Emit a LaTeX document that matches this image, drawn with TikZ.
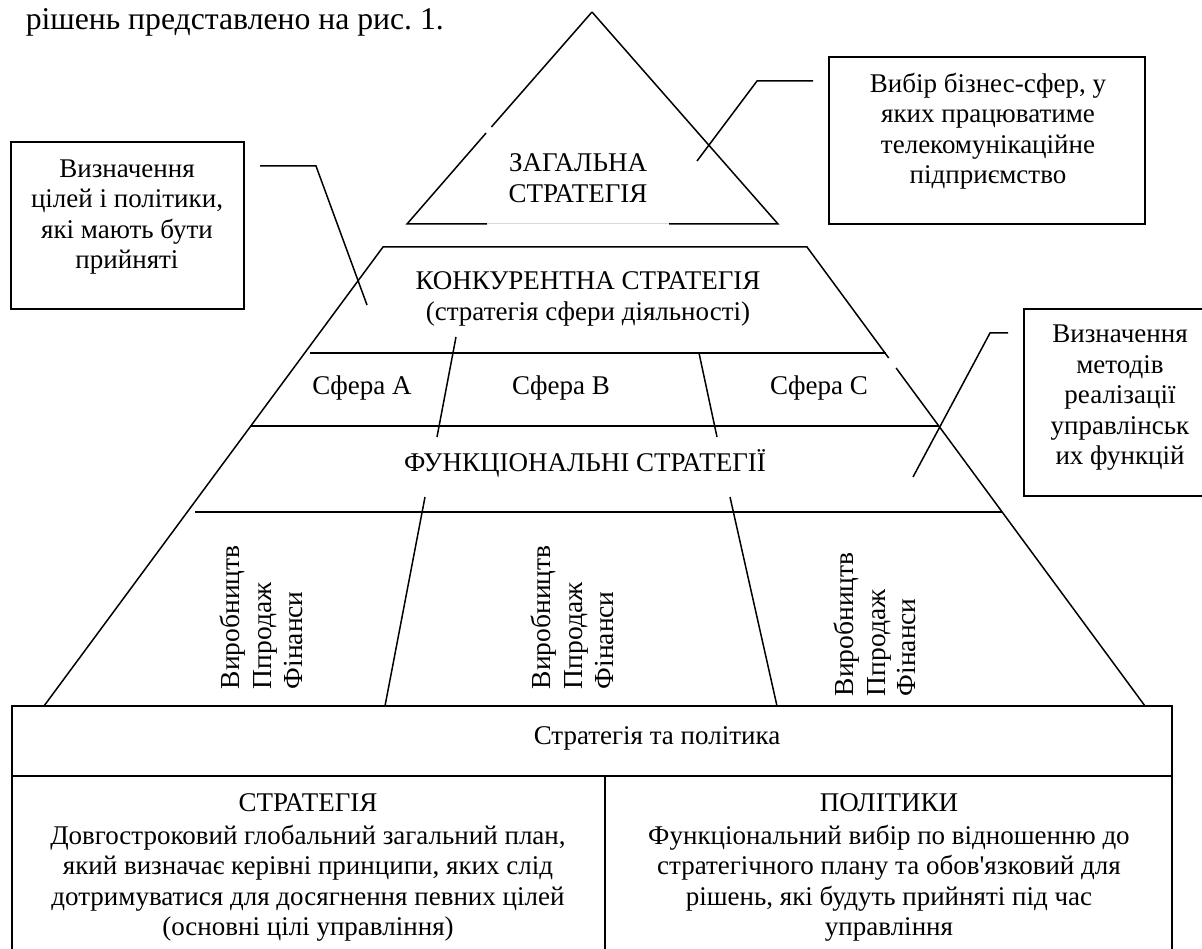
\documentclass[tikz,border=0pt]{standalone}
\usepackage{fontspec}
\setmainfont{Liberation Serif}
\newfontfamily\rawf{Liberation Serif}
\begin{document}
\frenchspacing
\begin{tikzpicture}[x=1pt,y=-1pt,line width=1.5pt,
  txt/.style={font=\fontsize{27}{30.5}\selectfont,inner sep=0pt,align=center},
  vtxt/.style={font=\fontsize{27.5}{30}\selectfont,inner sep=0pt,rotate=90,anchor=base west},
  bx/.style={line width=1.8pt},
  faint/.style={line width=1pt,black!15}]
\useasboundingbox (0,0) rectangle (1202,949);
% intro line
\node[anchor=base west,font=\fontsize{31.7}{34}\selectfont,inner sep=0pt] (intro) at (25,30) {рішень представлено на рис. 1.};
% top triangle
\coordinate (tA) at (592,12);
\coordinate (tL) at (407,224);
\coordinate (tR) at (778,224);
\coordinate (tg1) at (491.4,127);
\coordinate (tg2) at (486.1,133);
\coordinate (tb1) at (487,224);
\coordinate (tb2) at (669,224);
\draw (tA) -- (tg1);
\draw (tg2) -- (tL) -- (tb1);
\draw[faint] (tb1) -- (tb2);
\draw (tb2) -- (tR) -- (tA);
\node[txt] (zag) at (578,178) {ЗАГАЛЬНА\\СТРАТЕГІЯ};
% pyramid
\coordinate (pTL) at (383,247);
\coordinate (pTR) at (807,247);
\coordinate (pBL) at (44,706);
\coordinate (pBR) at (1145,706);
\coordinate (pg1) at (888.7,358);
\coordinate (pg2) at (896.1,368);
\draw (pBL) -- (pTL) -- (pTR) -- (pg1);
\draw (pg2) -- (pBR);
\coordinate (h1a) at (310,353); \coordinate (h1b) at (886,353);
\coordinate (h2a) at (251,426); \coordinate (h2b) at (939,426);
\coordinate (h3a) at (195,512); \coordinate (h3b) at (1002,512);
\draw (h1a) -- (h1b);
\draw (h2a) -- (h2b);
\draw (h3a) -- (h3b);
\coordinate (s1a) at (456,337); \coordinate (s1b) at (437,437);
\coordinate (s2a) at (699,353); \coordinate (s2b) at (717,437);
\coordinate (s3a) at (425,497); \coordinate (s3b) at (385,706);
\coordinate (s4a) at (730,497); \coordinate (s4b) at (777,706);
\draw (s1a) -- (s1b);
\draw (s2a) -- (s2b);
\draw (s3a) -- (s3b);
\draw (s4a) -- (s4b);
\node[txt] (konk) at (588,299) {КОНКУРЕНТНА СТРАТЕГІЯ\\(стратегія сфери діяльності)};
\node[txt] (sfA) at (362,388) {Сфера А};
\node[txt] (sfB) at (561,388) {Сфера В};
\node[txt] (sfC) at (819,388) {Сфера С};
\node[txt] (func) at (585,463) {ФУНКЦІОНАЛЬНІ СТРАТЕГІЇ};
% vertical texts
\node[vtxt] (v1a) at (239,690) {Виробництв};
\node[vtxt] (v1b) at (271,690) {Ппродаж};
\node[vtxt] (v1c) at (302,690) {Фінанси};
\node[vtxt] (v2a) at (550,690) {Виробництв};
\node[vtxt] (v2b) at (582,690) {Ппродаж};
\node[vtxt] (v2c) at (613,690) {Фінанси};
\node[vtxt] (v3a) at (853,697) {Виробництв};
\node[vtxt] (v3b) at (885,697) {Ппродаж};
\node[vtxt] (v3c) at (915,697) {Фінанси};
% callout boxes
\node[bx,draw,minimum width=233pt,minimum height=167pt,inner sep=0pt] (cL) at (127.5,225.5) {};
\node[txt] (cLt) at (127,217) {Визначення\\цілей і політики,\\які мають бути\\прийняті};
\node[bx,draw,minimum width=316pt,minimum height=167pt,inner sep=0pt] (cT) at (987,140.5) {};
\node[txt] (cTt) at (988,131) {Вибір бізнес-сфер, у\\яких працюватиме\\телекомунікаційне\\підприємство};
\draw[bx] (1205,309) -- (1024,309) -- (1024,496) -- (1205,496);
\node[txt] (cRt) at (1120,398) {Визначення\\методів\\реалізації\\управлінськ\\их функцій};
% callout lines
\coordinate (lL1) at (260,166); \coordinate (lL2) at (316,166); \coordinate (lL3) at (367,305);
\draw (lL1) -- (lL2) -- (lL3);
\coordinate (lT1) at (813,81); \coordinate (lT2) at (757,81); \coordinate (lT3) at (697,161);
\draw (lT1) -- (lT2) -- (lT3);
\coordinate (lR1) at (1008,333); \coordinate (lR2) at (990,333); \coordinate (lR3) at (913,477);
\draw (lR1) -- (lR2) -- (lR3);
% bottom table
\draw[bx] (12,955) -- (12,706) -- (1172,706) -- (1172,955);
\draw[bx] (12,776) -- (1172,776);
\draw[bx] (605,776) -- (605,955);
\node[txt] (sp) at (657,738) {Стратегія та політика};
\node[txt] (st) at (308,803) {СТРАТЕГІЯ};
\node[txt] (stb) at (308,883) {Довгостроковий глобальний загальний план,\\який визначає керівні принципи, яких слід\\дотримуватися для досягнення певних цілей\\(основні цілі управління)};
\node[txt] (po) at (889,803) {ПОЛІТИКИ};
\node[txt] (pob) at (889,883) {Функціональний вибір по відношенню до\\стратегічного плану та обов{\rawf'}язковий для\\рішень, які будуть прийняті під час\\управління};
\end{tikzpicture}
\end{document}
